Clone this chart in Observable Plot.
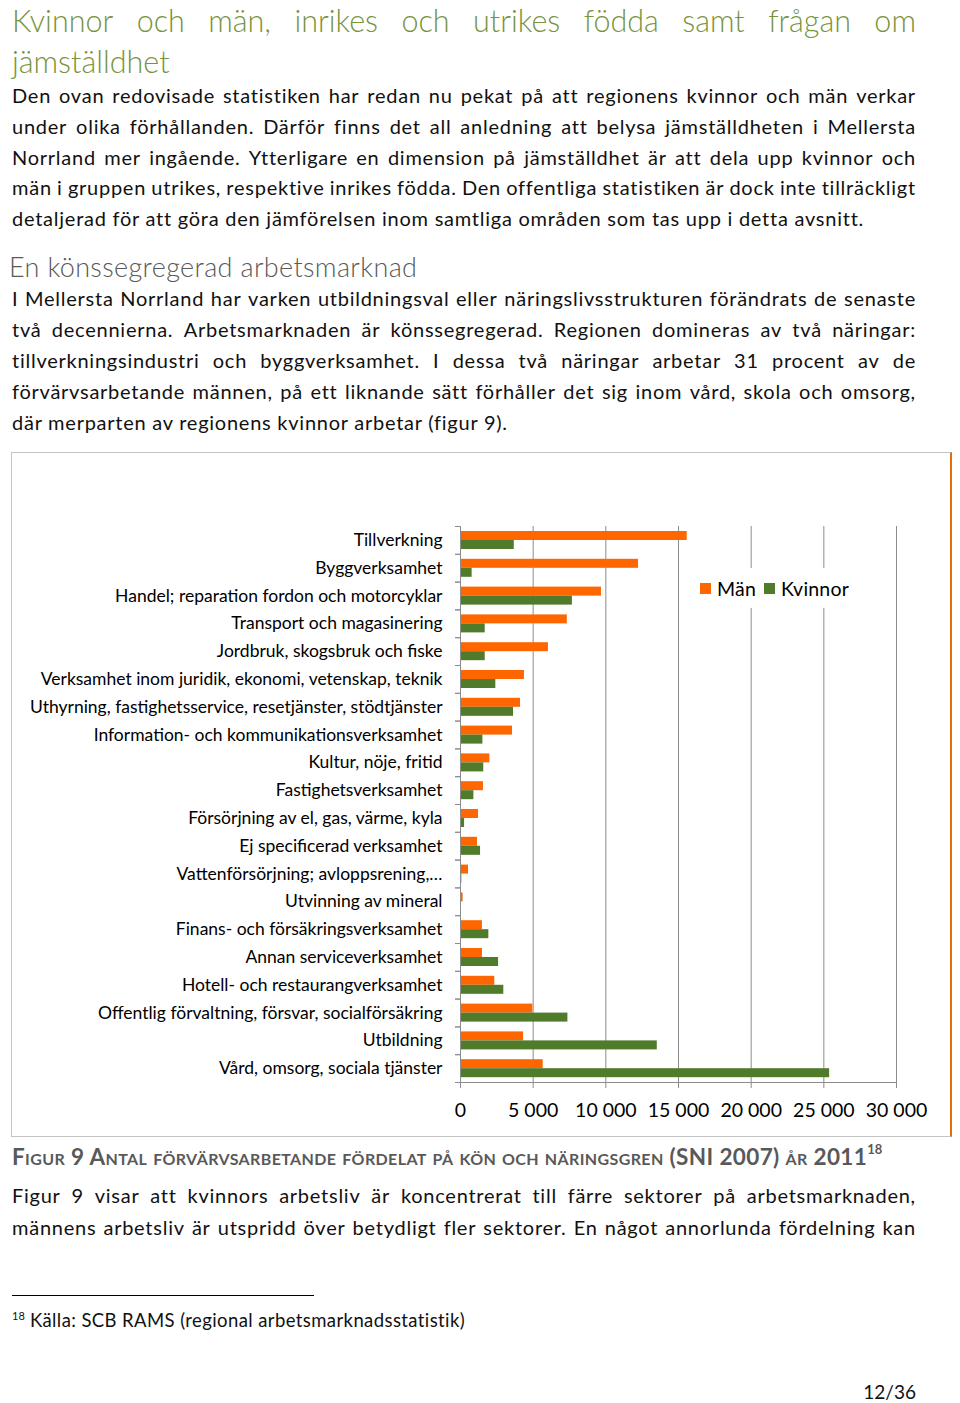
<!DOCTYPE html>
<html><head><meta charset="utf-8">
<script src="https://cdn.jsdelivr.net/npm/d3@7"></script>
<script src="https://cdn.jsdelivr.net/npm/@observablehq/plot@0.6"></script>
<style>
html,body{margin:0;padding:0;background:#fff}
body{width:960px;height:1403px;position:relative;overflow:hidden;font-family:Lato,"Open Sans",sans-serif;color:#111}
.blk{position:absolute;left:12px;width:904px}
.ln{white-space:nowrap}
.jl{display:flex;justify-content:space-between}
.body{font-size:20px;letter-spacing:0.75px}
#box{position:absolute;left:11px;top:452px;width:938px;height:683px;border:1px solid #c4c4c4;border-right:2px solid #E46C0A}
#chart{position:absolute;left:12px;top:453px}
#legend{position:absolute;left:692px;top:568px;width:166px;height:40px;background:#fff;display:flex;align-items:center;font-size:19.5px;letter-spacing:0.2px;color:#000}
#legend .sw{display:inline-block;width:11px;height:11px;margin:0 6px 0 8px}
</style></head>
<body>
<div id="title" class="blk" style="top:0px;color:#77933C;font-size:30.5px;font-weight:300;"></div>
<div id="p1" class="blk body" style="top:80px;"></div>
<div id="sub" class="blk" style="top:251px;left:9px;color:#595959;font-size:27px;letter-spacing:0.35px;font-weight:300;line-height:32px;white-space:nowrap;">En könssegregerad arbetsmarknad</div>
<div id="p2" class="blk body" style="top:283px;"></div>
<div id="box"></div>
<div id="chart"></div>
<div id="legend"><span class="sw" style="background:#FF6600"></span><span>Män</span><span class="sw" style="background:#4F7B2B"></span><span>Kvinnor</span></div>
<div id="cap" class="blk" style="top:1137px;color:#595959;font-weight:bold;font-variant:small-caps;font-size:22.5px;letter-spacing:0.38px;line-height:28px;white-space:nowrap;">Figur 9 Antal förvärvsarbetande fördelat på kön och näringsgren (SNI 2007) år 2011<sup style="font-size:13px;font-variant:normal;letter-spacing:0;position:relative;top:-2px;">18</sup></div>
<div id="p3" class="blk body" style="top:1180px;"></div>
<div style="position:absolute;left:12px;top:1295px;width:302px;height:1px;background:#000"></div>
<div class="blk" style="top:1302px;font-size:18.5px;letter-spacing:0.4px;line-height:28px;white-space:nowrap;color:#111"><sup style="font-size:11px;letter-spacing:0;">18</sup> Källa: SCB RAMS (regional arbetsmarknadsstatistik)</div>
<div class="blk" style="top:1378px;font-size:19px;line-height:28px;text-align:right;color:#111">12/36</div>
<script>
// ---- text content ----
const titleLines = ["Kvinnor och män, inrikes och utrikes födda samt frågan om", "jämställdhet"];
const para1 = [
  "Den ovan redovisade statistiken har redan nu pekat på att regionens kvinnor och män verkar",
  "under olika förhållanden. Därför finns det all anledning att belysa jämställdheten i Mellersta",
  "Norrland mer ingående. Ytterligare en dimension på jämställdhet är att dela upp kvinnor och",
  "män i gruppen utrikes, respektive inrikes födda. Den offentliga statistiken är dock inte tillräckligt",
  "detaljerad för att göra den jämförelsen inom samtliga områden som tas upp i detta avsnitt."
];
const para2 = [
  "I Mellersta Norrland har varken utbildningsval eller näringslivsstrukturen förändrats de senaste",
  "två decennierna. Arbetsmarknaden är könssegregerad. Regionen domineras av två näringar:",
  "tillverkningsindustri och byggverksamhet. I dessa två näringar arbetar 31 procent av de",
  "förvärvsarbetande männen, på ett liknande sätt förhåller det sig inom vård, skola och omsorg,",
  "där merparten av regionens kvinnor arbetar (figur 9)."
];
const para3 = [
  "Figur 9 visar att kvinnors arbetsliv är koncentrerat till färre sektorer på arbetsmarknaden,",
  "männens arbetsliv är utspridd över betydligt fler sektorer. En något annorlunda fördelning kan"
];

// ---- chart data ----
const categories = [
  "Tillverkning",
  "Byggverksamhet",
  "Handel; reparation fordon och motorcyklar",
  "Transport och magasinering",
  "Jordbruk, skogsbruk och fiske",
  "Verksamhet inom juridik, ekonomi, vetenskap, teknik",
  "Uthyrning, fastighetsservice, resetjänster, stödtjänster",
  "Information- och kommunikationsverksamhet",
  "Kultur, nöje, fritid",
  "Fastighetsverksamhet",
  "Försörjning av el, gas, värme, kyla",
  "Ej specificerad verksamhet",
  "Vattenförsörjning; avloppsrening,…",
  "Utvinning av mineral",
  "Finans- och försäkringsverksamhet",
  "Annan serviceverksamhet",
  "Hotell- och restaurangverksamhet",
  "Offentlig förvaltning, försvar, socialförsäkring",
  "Utbildning",
  "Vård, omsorg, sociala tjänster"
];
const man     = [15600, 12250, 9700, 7350, 6050, 4400, 4130, 3580, 2020, 1580, 1240, 1170, 550, 180, 1510, 1510, 2360, 4980, 4340, 5690];
const kvinnor = [3700, 800, 7700, 1700, 1700, 2430, 3650, 1540, 1600, 920, 280, 1380, 90, 30, 1950, 2620, 2980, 7390, 13540, 25400];
const series = ["Män", "Kvinnor"];
const xTicks = [0, 5000, 10000, 15000, 20000, 25000, 30000];

// ---- text layout helpers ----
function addLines(id, lines, lh, justifyLast) {
  const el = document.getElementById(id);
  lines.forEach((t, i) => {
    const d = document.createElement("div");
    d.className = "ln";
    d.style.height = lh + "px";
    d.style.lineHeight = lh + "px";
    const isLast = i === lines.length - 1;
    if (!isLast || justifyLast) {
      d.classList.add("jl");
      t.split(" ").forEach(w => { const s = document.createElement("span"); s.textContent = w; d.appendChild(s); });
    } else {
      d.textContent = t;
    }
    el.appendChild(d);
  });
}
addLines("title", titleLines, 41, false);
addLines("p1", para1, 30.8, false);
addLines("p2", para2, 31, false);
addLines("p3", para3, 31.5, true);

// ---- chart ----
const rows = categories.flatMap((c, i) => [
  {kategori: c, kon: series[0], varde: man[i]},
  {kategori: c, kon: series[1], varde: kvinnor[i]}
]);
const fmt = d => d3.format(",")(d).replace(/,/g, " ");
const gray = "#8c8c8c";
const half = 556 / 20 / 2;

const chart = Plot.plot({
  width: 938,
  height: 683,
  marginLeft: 448,
  marginRight: 54,
  marginTop: 73,
  marginBottom: 54,
  style: {fontFamily: "Lato, 'Open Sans', sans-serif", color: "#000", background: "transparent", overflow: "visible"},
  x: {domain: [0, 30000], label: null},
  y: {domain: categories, padding: 0, round: false, label: null},
  color: {domain: series, range: ["#FF6600", "#4F7B2B"]},
  marks: [
    Plot.ruleX(xTicks.slice(1), {stroke: gray, strokeWidth: 1}),
    Plot.barX(rows.filter(d => d.kon === series[0]), {y: "kategori", x: "varde", fill: "kon", insetTop: 5, insetBottom: 13.8}),
    Plot.barX(rows.filter(d => d.kon === series[1]), {y: "kategori", x: "varde", fill: "kon", insetTop: 14, insetBottom: 4.8}),
    Plot.ruleX([0], {stroke: gray}),
    Plot.frame({anchor: "bottom", stroke: gray}),
    Plot.axisY({tickSize: 5, dy: -half, tickFormat: () => "", stroke: gray}),
    Plot.axisY({tickSize: 5, dy: half, tickFormat: () => "", stroke: gray}),
    Plot.axisY({tickSize: 0, tickPadding: 18, fontSize: 17.5, fill: "#000", style: {letterSpacing: "0.4px"}}),
    Plot.axisX({ticks: xTicks, tickSize: 6, tickFormat: () => "", stroke: gray}),
    Plot.axisX({ticks: xTicks, tickSize: 0, tickPadding: 21, tickFormat: fmt, fontSize: 19.5, fill: "#000"})
  ]
});
document.getElementById("chart").appendChild(chart);
</script>
</body></html>
